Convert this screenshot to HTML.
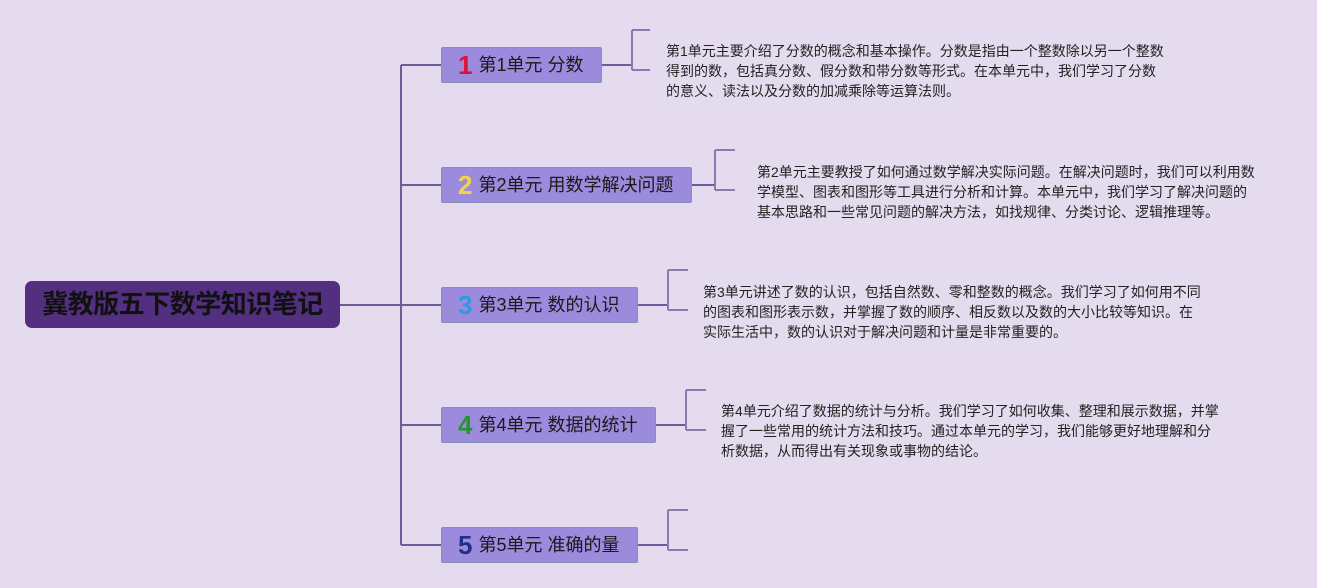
<!DOCTYPE html>
<html><head><meta charset="utf-8"><style>
html,body{margin:0;padding:0}
body{width:1317px;height:588px;background:#e4dcee;position:relative;overflow:hidden;font-family:"Liberation Sans","Noto Sans CJK SC",sans-serif}
.root{position:absolute;left:25px;top:281px;width:315px;height:47px;background:#532f80;border-radius:7px;color:#111;font-weight:bold;font-size:26px;line-height:47px;text-align:center;letter-spacing:-0.5px}
.n{position:absolute;left:441px;height:36px;background:#9c8bdc;border:1px solid #7f8fb5;border-radius:2px;box-sizing:border-box;color:#1a1a1a;font-size:18px;line-height:34px;padding-left:16px;white-space:nowrap}
.n b{font-size:26px;font-weight:900;margin-right:6px;display:inline-block;vertical-align:top}
.t{position:absolute;font-size:14px;line-height:20px;color:#222;white-space:nowrap}
svg{position:absolute;left:0;top:0}
</style></head><body>
<svg width="1317" height="588">
<g fill="none" stroke="#6f5a9a" stroke-width="2">
<path d="M340 305H401M401 65V545M401 65H441M401 185H441M401 305H441M401 425H441M401 545H441"/>
<path d="M602 65H632M692 185H715M638 305H668M656 425H686M638 545H668"/>
</g>
<g fill="none" stroke="#8a7ab0" stroke-width="2">
<path d="M632 30V70M632 30H650M632 70H650"/>
<path d="M715 150V190M715 150H735M715 190H735"/>
<path d="M668 270V310M668 270H688M668 310H688"/>
<path d="M686 390V430M686 390H706M686 430H706"/>
<path d="M668 510V550M668 510H688M668 550H688"/>
</g>
</svg>
<div class="root">冀教版五下数学知识笔记</div>
<div class="n" style="top:47px;width:161px"><b style="color:#d8143a">1</b>第1单元 分数</div>
<div class="n" style="top:167px;width:251px"><b style="color:#f2d640">2</b>第2单元 用数学解决问题</div>
<div class="n" style="top:287px;width:197px"><b style="color:#2c9be0">3</b>第3单元 数的认识</div>
<div class="n" style="top:407px;width:215px"><b style="color:#1f9a2a">4</b>第4单元 数据的统计</div>
<div class="n" style="top:527px;width:197px"><b style="color:#23308a">5</b>第5单元 准确的量</div>
<div class="t" style="left:666px;top:41px">第1单元主要介绍了分数的概念和基本操作。分数是指由一个整数除以另一个整数<br>得到的数，包括真分数、假分数和带分数等形式。在本单元中，我们学习了分数<br>的意义、读法以及分数的加减乘除等运算法则。</div>
<div class="t" style="left:757px;top:162px">第2单元主要教授了如何通过数学解决实际问题。在解决问题时，我们可以利用数<br>学模型、图表和图形等工具进行分析和计算。本单元中，我们学习了解决问题的<br>基本思路和一些常见问题的解决方法，如找规律、分类讨论、逻辑推理等。</div>
<div class="t" style="left:703px;top:282px">第3单元讲述了数的认识，包括自然数、零和整数的概念。我们学习了如何用不同<br>的图表和图形表示数，并掌握了数的顺序、相反数以及数的大小比较等知识。在<br>实际生活中，数的认识对于解决问题和计量是非常重要的。</div>
<div class="t" style="left:721px;top:401px">第4单元介绍了数据的统计与分析。我们学习了如何收集、整理和展示数据，并掌<br>握了一些常用的统计方法和技巧。通过本单元的学习，我们能够更好地理解和分<br>析数据，从而得出有关现象或事物的结论。</div>
</body></html>
